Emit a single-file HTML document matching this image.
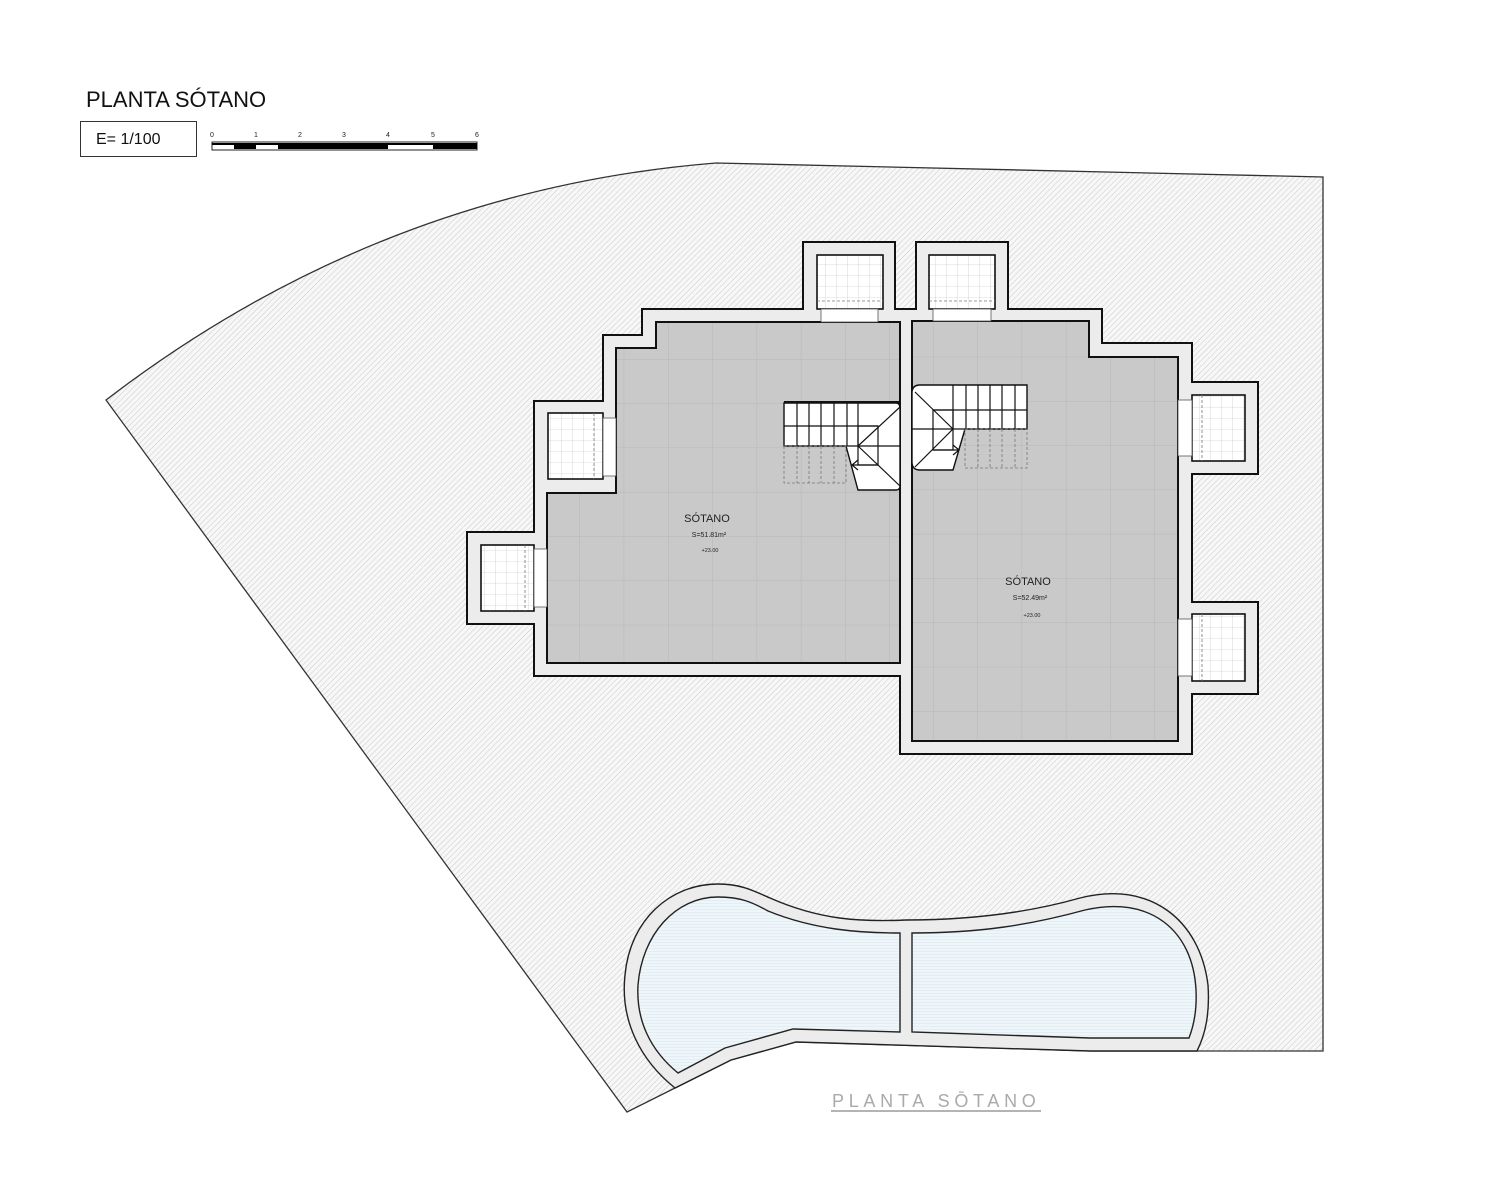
<!DOCTYPE html>
<html><head><meta charset="utf-8"><style>
html,body{margin:0;padding:0;background:#fff}
svg{display:block}
</style></head><body>
<svg width="1500" height="1200" viewBox="0 0 1500 1200" xmlns="http://www.w3.org/2000/svg">
<defs>
<pattern id="hatch" patternUnits="userSpaceOnUse" width="4" height="4" patternTransform="rotate(-45)">
<rect width="4" height="4" fill="#f7f7f7"/>
<line x1="0" y1="0" x2="4" y2="0" stroke="#cacaca" stroke-width="1"/>
</pattern>
<pattern id="water" patternUnits="userSpaceOnUse" width="4" height="3">
<rect width="4" height="3" fill="#eef6fa"/>
<line x1="0" y1="0" x2="4" y2="0" stroke="#cfe0ea" stroke-width="0.8"/>
</pattern>
<pattern id="gridL" patternUnits="userSpaceOnUse" width="44.3" height="44.3" x="668" y="359">
<rect width="44.3" height="44.3" fill="#c9c9c9"/>
<path d="M0 0H44.3M0 0V44.3" stroke="#b2b2b2" stroke-width="0.8" fill="none"/>
</pattern>
<pattern id="gridR" patternUnits="userSpaceOnUse" width="44.3" height="44.3" x="933" y="401">
<rect width="44.3" height="44.3" fill="#c9c9c9"/>
<path d="M0 0H44.3M0 0V44.3" stroke="#b2b2b2" stroke-width="0.8" fill="none"/>
</pattern>
<pattern id="gridW" patternUnits="userSpaceOnUse" width="11" height="11">
<rect width="11" height="11" fill="#fff"/>
<path d="M0 0H11M0 0V11" stroke="#bdbdbd" stroke-width="0.6" fill="none"/>
</pattern>
</defs>

<text x="86" y="107" font-family="'Liberation Sans',sans-serif" font-size="22" fill="#111">PLANTA SÓTANO</text>
<rect x="80.5" y="121.5" width="116" height="35" fill="#fff" stroke="#333" stroke-width="1"/>
<text x="96" y="144" font-family="'Liberation Sans',sans-serif" font-size="16" fill="#111">E= 1/100</text>
<g font-family="'Liberation Sans',sans-serif" font-size="7" fill="#222">
<text x="210" y="137">0</text><text x="254" y="137">1</text><text x="298" y="137">2</text><text x="342" y="137">3</text><text x="386" y="137">4</text><text x="431" y="137">5</text><text x="475" y="137">6</text>
</g>
<rect x="212" y="142" width="265" height="8" fill="#fff" stroke="#222" stroke-width="1"/>
<g fill="#000">
<rect x="212" y="143" width="22" height="2"/>
<rect x="234" y="143" width="22" height="6"/>
<rect x="256" y="143" width="22" height="2"/>
<rect x="278" y="143" width="22" height="6"/>
<rect x="300" y="143" width="44" height="6"/>
<rect x="344" y="143" width="44" height="6"/>
<rect x="388" y="143" width="45" height="2"/>
<rect x="433" y="143" width="44" height="6"/>
</g>

<path d="M106 400 Q380 190 716 163 L1323 177 L1323 1051 L1197 1051 L1090 1051 L796 1042 L731 1060 L675 1088 L627 1112 Z" fill="url(#hatch)" stroke="#333" stroke-width="1.3"/>

<path d="M675 1088 C640 1060 620 1020 625 975 C630 920 670 884 718 884 C740 884 752 890 770 898 C820 920 860 922 906 920 C960 920 1020 915 1080 898 C1150 880 1200 920 1208 985 C1210 1015 1205 1035 1197 1051 L1090 1051 L796 1042 L731 1060 Z" fill="#ececec" stroke="#222" stroke-width="1.4"/>
<path d="M678 1073 C650 1050 636 1020 638 985 C642 935 675 897 718 897 C740 897 752 902 768 911 C815 930 860 933 900 933 L900 1032 L793 1029 L725 1048 Z" fill="url(#water)" stroke="#222" stroke-width="1.4"/>
<path d="M912 933 C980 933 1030 925 1085 910 C1150 895 1193 930 1196 990 C1197 1010 1194 1025 1189 1038 L1090 1038 L912 1032 Z" fill="url(#water)" stroke="#222" stroke-width="1.4"/>

<path d="M803 242 L895 242 L895 309 L916 309 L916 242 L1008 242 L1008 309 L1102 309 L1102 343 L1192 343 L1192 382 L1258 382 L1258 474 L1192 474 L1192 602 L1258 602 L1258 694 L1192 694 L1192 754 L900 754 L900 676 L534 676 L534 624 L467 624 L467 532 L534 532 L534 401 L603 401 L603 335 L642 335 L642 309 L803 309 Z" fill="#ececec" stroke="#111" stroke-width="2"/>

<path d="M656 322 L900 322 L900 663 L547 663 L547 493 L616 493 L616 348 L656 348 Z" fill="url(#gridL)" stroke="#111" stroke-width="2"/>
<path d="M912 321 L1089 321 L1089 357 L1178 357 L1178 741 L912 741 Z" fill="url(#gridR)" stroke="#111" stroke-width="2"/>

<g stroke="#111" stroke-width="1.6">
<rect x="817" y="255" width="66" height="54" fill="url(#gridW)"/>
<rect x="929" y="255" width="66" height="54" fill="url(#gridW)"/>
<rect x="548" y="413" width="55" height="66" fill="url(#gridW)"/>
<rect x="481" y="545" width="53" height="66" fill="url(#gridW)"/>
<rect x="1192" y="395" width="53" height="66" fill="url(#gridW)"/>
<rect x="1192" y="614" width="53" height="67" fill="url(#gridW)"/>
</g>
<g fill="#fff" stroke="#555" stroke-width="0.8">
<rect x="821" y="309" width="57" height="13"/>
<rect x="933" y="309" width="58" height="12"/>
<rect x="603" y="418" width="13" height="58"/>
<rect x="534" y="549" width="13" height="58"/>
<rect x="1178" y="400" width="14" height="56"/>
<rect x="1178" y="619" width="14" height="57"/>
</g>
<g stroke="#777" stroke-width="0.8" stroke-dasharray="3,2" fill="none">
<line x1="817" y1="301" x2="883" y2="301"/>
<line x1="929" y1="301" x2="995" y2="301"/>
<line x1="594" y1="413" x2="594" y2="479"/>
<line x1="525" y1="545" x2="525" y2="611"/>
<line x1="1202" y1="395" x2="1202" y2="461"/>
<line x1="1202" y1="614" x2="1202" y2="681"/>
</g>

<path d="M784 403 L896 403 Q900 403 900 408 L900 486 Q900 490 896 490 L858 490 L846 446 L784 446 Z" fill="#fff" stroke="#111" stroke-width="1.4"/>
<line x1="784" y1="402" x2="900" y2="402" stroke="#111" stroke-width="2"/>
<g stroke="#111" stroke-width="1.2" fill="none">
<line x1="784" y1="426" x2="878" y2="426"/>
<line x1="797" y1="403" x2="797" y2="446"/><line x1="809" y1="403" x2="809" y2="446"/><line x1="821" y1="403" x2="821" y2="446"/><line x1="834" y1="403" x2="834" y2="446"/><line x1="847" y1="403" x2="847" y2="446"/><line x1="858" y1="403" x2="858" y2="446"/>
<line x1="846" y1="446" x2="900" y2="446"/>
<rect x="858" y="426" width="20" height="39"/>
<line x1="858" y1="446" x2="900" y2="407"/><line x1="858" y1="446" x2="900" y2="486"/>
<path d="M878 465 L852 465 M858 460 L852 465 L858 470"/>
</g>
<g stroke="#777" stroke-width="0.8" stroke-dasharray="3,2" fill="none">
<rect x="784" y="446" width="62" height="37"/>
<line x1="797" y1="446" x2="797" y2="483"/><line x1="809" y1="446" x2="809" y2="483"/><line x1="821" y1="446" x2="821" y2="483"/><line x1="834" y1="446" x2="834" y2="483"/>
</g>

<path d="M920 385 L1027 385 L1027 429 L965 429 L953 470 L920 470 Q912 470 912 462 L912 393 Q912 385 920 385 Z" fill="#fff" stroke="#111" stroke-width="1.4"/>
<g stroke="#111" stroke-width="1.2" fill="none">
<line x1="933" y1="410" x2="1027" y2="410"/>
<line x1="912" y1="429" x2="965" y2="429"/>
<line x1="953" y1="385" x2="953" y2="429"/><line x1="966" y1="385" x2="966" y2="429"/><line x1="978" y1="385" x2="978" y2="429"/><line x1="990" y1="385" x2="990" y2="429"/><line x1="1002" y1="385" x2="1002" y2="429"/><line x1="1015" y1="385" x2="1015" y2="429"/>
<rect x="933" y="410" width="20" height="40"/>
<line x1="953" y1="429" x2="915" y2="392"/><line x1="953" y1="429" x2="915" y2="467"/>
<path d="M933 450 L959 450 M953 445 L959 450 L953 455"/>
</g>
<g stroke="#777" stroke-width="0.8" stroke-dasharray="3,2" fill="none">
<rect x="965" y="429" width="62" height="39"/>
<line x1="978" y1="429" x2="978" y2="468"/><line x1="990" y1="429" x2="990" y2="468"/><line x1="1002" y1="429" x2="1002" y2="468"/><line x1="1015" y1="429" x2="1015" y2="468"/>
</g>

<g font-family="'Liberation Sans',sans-serif" fill="#222" text-anchor="middle">
<text x="707" y="522" font-size="11">SÓTANO</text>
<text x="709" y="537" font-size="7">S=51.81m²</text>
<text x="710" y="552" font-size="5.5">+23.00</text>
<text x="1028" y="585" font-size="11">SÓTANO</text>
<text x="1030" y="600" font-size="7">S=52.49m²</text>
<text x="1032" y="617" font-size="5.5">+23.00</text>
</g>

<text x="832" y="1107" font-family="'Liberation Sans',sans-serif" font-size="18" fill="#aaa" letter-spacing="2.2" textLength="206">PLANTA  SŌTANO</text>
<line x1="831" y1="1111" x2="1041" y2="1111" stroke="#888" stroke-width="1.2"/>
</svg>
</body></html>
